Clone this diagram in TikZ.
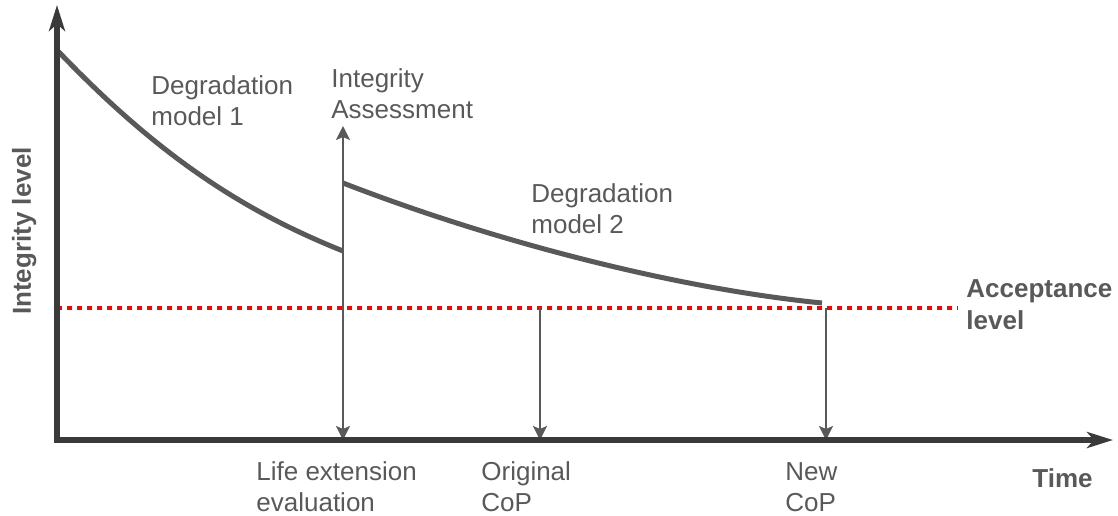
\documentclass[tikz,border=0pt]{standalone}
\usepackage{fontspec}
\setmainfont{Liberation Sans}
\usetikzlibrary{arrows.meta}
\definecolor{txtgray}{HTML}{595959}
\definecolor{axisgray}{HTML}{3A3A3A}
\definecolor{accred}{HTML}{FF0000}
\begin{document}
\begin{tikzpicture}[x=0.5pt,y=-0.5pt,
  lbl/.style={anchor=base west,inner sep=0pt,text=txtgray,font=\fontsize{13}{15.5}\selectfont},
  blbl/.style={lbl,font=\fontsize{13}{15.5}\selectfont\bfseries},
  axisline/.style={draw=axisgray,line width=2.8pt,-{Stealth[length=13pt,width=8pt,inset=3.5pt]}},
  model/.style={draw=txtgray,line width=2.5pt},
  marker/.style={draw=txtgray,line width=1pt,-{Stealth[length=7pt,width=7pt,inset=1.5pt]}},
  acceptance/.style={draw=accred,line width=2.3pt,dash pattern=on 2.3pt off 2.7pt}]
\useasboundingbox (0,0) rectangle (1118,515);

% axes
\coordinate (O) at (57,440);
\coordinate (ytip) at (57,5);
\coordinate (xtip) at (1113,440);

% degradation curves
\coordinate (m1s) at (57,50);
\coordinate (m1e) at (343,251);
\coordinate (m2s) at (343,183);
\coordinate (m2e) at (822,303);

% acceptance level line
\coordinate (accs) at (57,308);
\coordinate (acce) at (958,308);

% event markers
\coordinate (iatop) at (343,126);
\coordinate (iabot) at (343,440);
\coordinate (octop) at (540,308);
\coordinate (ocbot) at (540,440);
\coordinate (nctop) at (826,308);
\coordinate (ncbot) at (826,440);

\draw[acceptance] (accs) -- (acce);

\draw[model] (m1s) .. controls (157,155) and (243,211) .. (m1e);
\draw[model] (m2s) .. controls (490,240) and (672,288) .. (m2e);

\draw[marker,{Stealth[length=7pt,width=7pt,inset=1.5pt]}-{Stealth[length=7pt,width=7pt,inset=1.5pt]}] (iabot) -- (iatop);
\draw[marker] (octop) -- (ocbot);
\draw[marker] (nctop) -- (ncbot);

\draw[axisline] ([yshift=-1.2pt]O) -- (ytip);
\draw[axisline] ([xshift=-1.4pt]O) -- (xtip);

% labels
\node[lbl] (dm1a) at (151,94) {Degradation};
\node[lbl] (dm1b) at (151,125) {model 1};
\node[lbl] (ia1) at (331,87) {Integrity};
\node[lbl] (ia2) at (331,118) {Assessment};
\node[lbl] (dm2a) at (531,202) {Degradation};
\node[lbl] (dm2b) at (531,233) {model 2};
\node[lbl] (le1) at (256,480) {Life extension};
\node[lbl] (le2) at (256,511) {evaluation};
\node[lbl] (oc1) at (481,480) {Original};
\node[lbl] (oc2) at (481,511) {CoP};
\node[lbl] (nc1) at (785,480) {New};
\node[lbl] (nc2) at (785,511) {CoP};
\node[blbl] (al1) at (966,297) {Acceptance};
\node[blbl] (al2) at (966,329) {level};
\node[blbl] (tm) at (1032,487) {Time};
\node[blbl,anchor=base,rotate=90] (il) at (31,231) {Integrity level};
\end{tikzpicture}
\end{document}
